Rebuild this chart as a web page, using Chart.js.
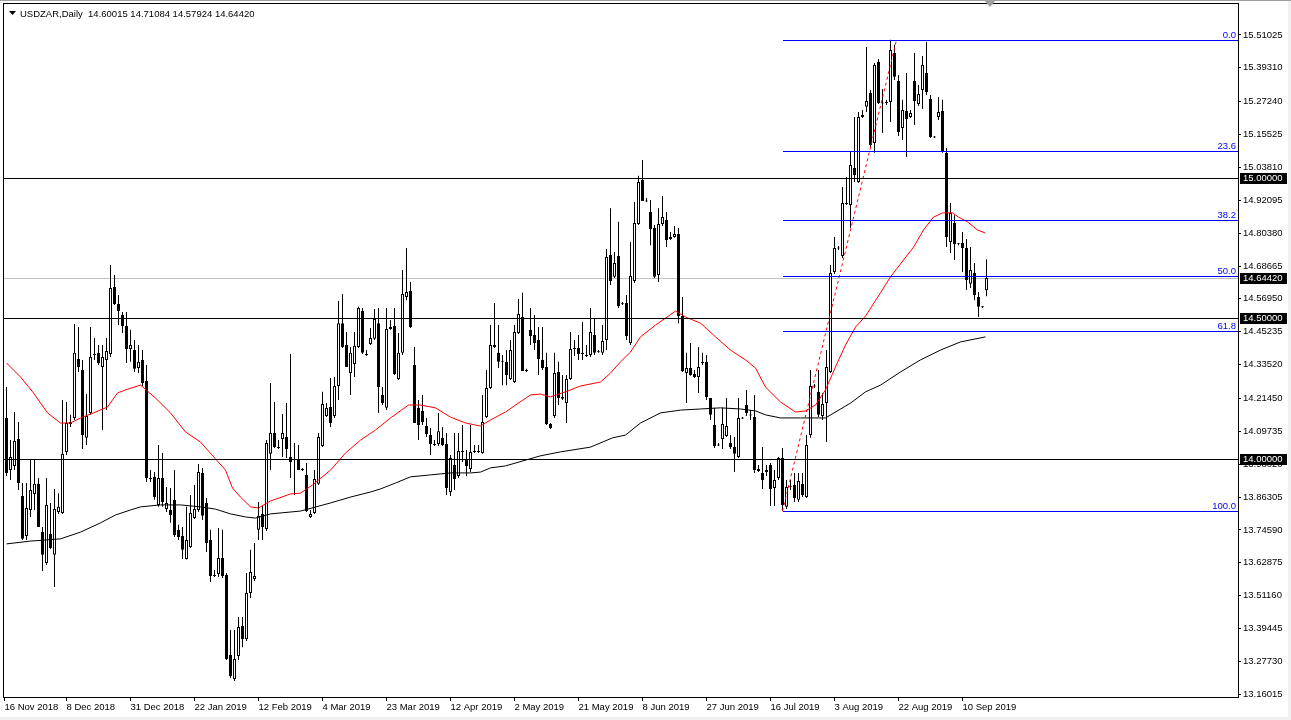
<!DOCTYPE html>
<html>
<head>
<meta charset="utf-8">
<script src="https://cdn.jsdelivr.net/npm/chart.js@4.4.0/dist/chart.umd.min.js"></script>
<style>
html,body{margin:0;padding:0;background:#fff;}
canvas{display:block;}
</style>
</head>
<body>
<canvas id="chart" width="1291" height="720"></canvas>
<script>
// USDZAR daily, values
const dateLabels = ["16 Nov 2018","8 Dec 2018","31 Dec 2018","22 Jan 2019","12 Feb 2019","4 Mar 2019","23 Mar 2019","12 Apr 2019","2 May 2019","21 May 2019","8 Jun 2019","27 Jun 2019","16 Jul 2019","3 Aug 2019","22 Aug 2019","10 Sep 2019"]
const dateTickIdx = [-0.5,15,31,47,63,79,95,111,127,143,159,175,191,207,223,239]
const priceTicks = [15.51025,15.39310,15.27240,15.15525,15.03810,14.92095,14.80380,14.68665,14.56950,14.45235,14.33520,14.21450,14.09735,13.98020,13.86305,13.74590,13.62875,13.51160,13.39445,13.27730,13.16015]

const open = [14.145,13.959,13.974,14.070,13.867,13.724,13.817,13.874,13.910,13.738,
13.628,13.731,13.657,13.810,13.806,14.024,14.123,14.145,14.355,14.316,
14.074,14.163,14.373,14.377,14.327,14.352,14.373,14.612,14.551,14.512,
14.473,14.391,14.387,14.323,14.352,14.277,13.931,13.935,13.835,13.931,
13.820,13.817,13.853,13.746,13.724,13.642,13.685,13.788,13.817,13.949,
13.842,13.710,13.585,13.589,13.646,13.585,13.300,13.214,13.296,13.403,
13.357,13.521,13.571,13.746,13.803,13.749,14.017,14.091,14.041,14.070,
14.077,14.006,13.995,13.995,13.959,13.942,13.792,13.806,13.910,14.045,
14.152,14.184,14.152,14.259,14.483,14.405,14.305,14.337,14.398,14.526,
14.373,14.409,14.427,14.483,14.227,14.181,14.462,14.473,14.284,14.377,
14.576,14.598,14.334,14.181,14.170,14.116,14.084,14.052,14.052,14.074,
14.052,13.881,13.977,13.938,14.024,13.995,13.963,14.024,14.024,14.020,
14.148,14.252,14.398,14.377,14.345,14.345,14.284,14.273,14.448,14.505,
14.312,14.459,14.441,14.423,14.352,14.327,14.123,14.152,14.309,14.220,
14.198,14.284,14.391,14.394,14.373,14.369,14.369,14.441,14.380,14.377,
14.423,14.726,14.648,14.722,14.551,14.555,14.412,14.633,14.836,14.993,
14.918,14.879,14.822,14.655,14.836,14.851,14.783,14.790,14.801,14.508,
14.305,14.323,14.302,14.291,14.345,14.345,14.216,14.120,14.049,14.070,
14.081,14.056,14.041,14.006,14.145,14.191,14.156,14.148,13.963,13.949,
13.952,13.977,13.895,13.931,14.002,13.828,13.902,13.906,13.853,13.910,
13.863,14.084,14.259,14.238,14.152,14.198,14.309,14.665,14.751,14.722,
14.911,14.904,15.036,14.986,15.218,15.254,15.303,15.125,15.414,15.268,
15.268,15.271,15.446,15.346,15.179,15.239,15.218,15.346,15.264,15.314,
15.375,15.282,15.147,15.218,15.239,15.090,14.772,14.840,14.765,14.769,
14.751,14.623,14.662,14.576,14.541,14.60015]

const high = [14.255,14.066,14.166,14.131,13.913,13.913,13.995,13.995,13.931,13.756,
13.931,13.842,13.892,13.877,14.209,14.202,14.156,14.480,14.469,14.352,
14.230,14.469,14.430,14.405,14.405,14.430,14.690,14.655,14.583,14.523,
14.523,14.459,14.423,14.405,14.387,14.334,13.959,13.952,14.049,14.020,
13.899,13.895,13.959,13.764,13.756,13.828,13.870,13.906,13.981,13.967,
13.860,13.746,13.603,13.753,13.746,13.592,13.389,13.389,13.435,13.435,
13.592,13.675,13.699,13.845,13.835,14.066,14.270,14.202,14.066,14.159,
14.198,14.373,14.056,14.049,13.967,13.984,13.817,13.959,14.091,14.238,
14.198,14.287,14.291,14.562,14.587,14.451,14.398,14.451,14.541,14.537,
14.387,14.466,14.533,14.537,14.255,14.537,14.494,14.537,14.448,14.672,
14.751,14.630,14.398,14.209,14.227,14.145,14.109,14.066,14.163,14.113,
14.091,14.013,14.091,14.091,14.120,14.031,14.120,14.049,14.049,14.227,
14.316,14.476,14.555,14.476,14.369,14.387,14.423,14.476,14.569,14.591,
14.320,14.537,14.512,14.469,14.469,14.377,14.127,14.377,14.345,14.298,
14.298,14.451,14.423,14.441,14.487,14.405,14.537,14.498,14.387,14.476,
14.747,14.893,14.737,14.844,14.558,14.583,14.772,14.915,15.008,15.065,
14.929,14.922,14.833,14.893,14.936,14.879,14.808,14.829,14.822,14.576,
14.377,14.412,14.316,14.398,14.377,14.369,14.216,14.181,14.056,14.181,
14.216,14.084,14.077,14.216,14.148,14.245,14.173,14.227,13.977,14.041,
13.977,13.984,13.959,14.006,14.038,13.924,13.924,13.949,13.949,13.949,
14.084,14.316,14.266,14.316,14.234,14.387,14.690,14.790,14.758,14.968,
15.004,15.093,15.218,15.236,15.243,15.467,15.314,15.410,15.425,15.318,
15.279,15.493,15.475,15.368,15.279,15.375,15.243,15.446,15.332,15.435,
15.485,15.296,15.150,15.289,15.279,15.107,14.911,14.868,14.769,14.808,
14.783,14.754,14.697,14.594,14.544,14.71084]

const low = [13.938,13.924,13.959,13.888,13.710,13.710,13.792,13.817,13.756,13.599,
13.621,13.678,13.542,13.803,13.803,14.013,14.113,14.138,14.309,14.034,
14.049,14.156,14.352,14.334,14.102,14.173,14.362,14.548,14.476,14.448,
14.341,14.345,14.309,14.305,14.259,13.917,13.917,13.853,13.828,13.828,
13.810,13.771,13.721,13.710,13.642,13.640,13.681,13.785,13.810,13.781,
13.667,13.560,13.578,13.578,13.574,13.282,13.218,13.207,13.282,13.328,
13.350,13.503,13.564,13.710,13.710,13.742,13.959,14.038,14.034,14.006,
14.002,13.931,13.870,13.959,13.956,13.810,13.788,13.803,13.906,14.041,
14.148,14.113,14.145,14.209,14.394,14.327,14.227,14.291,14.394,14.373,
14.366,14.405,14.423,14.163,14.191,14.173,14.459,14.298,14.280,14.369,
14.565,14.466,14.127,14.066,14.120,14.077,14.013,14.045,14.045,14.045,
13.870,13.867,13.888,13.931,13.988,13.938,13.952,14.020,14.020,14.017,
14.145,14.248,14.394,14.323,14.262,14.262,14.280,14.270,14.444,14.312,
14.309,14.405,14.387,14.298,14.316,14.120,14.106,14.145,14.191,14.209,
14.127,14.280,14.366,14.352,14.352,14.362,14.362,14.369,14.377,14.369,
14.387,14.619,14.644,14.537,14.548,14.423,14.405,14.626,14.833,14.918,
14.915,14.761,14.644,14.630,14.829,14.754,14.779,14.787,14.483,14.309,
14.198,14.295,14.287,14.234,14.334,14.209,14.138,14.038,14.045,14.034,
14.077,14.034,13.952,14.002,14.141,14.152,14.138,13.949,13.952,13.892,
13.938,13.831,13.831,13.924,13.813,13.820,13.888,13.845,13.845,13.863,
13.860,14.074,14.252,14.148,14.138,14.059,14.305,14.658,14.744,14.715,
14.904,14.822,14.986,14.983,15.214,15.236,15.111,15.090,15.264,15.161,
15.261,15.200,15.350,15.150,15.136,15.075,15.214,15.189,15.257,15.246,
15.296,15.143,15.143,15.207,15.090,14.754,14.733,14.708,14.761,14.665,
14.601,14.608,14.565,14.505,14.537,14.57924]

const close = [13.949,14.006,14.063,13.913,13.714,13.824,13.888,13.910,13.756,13.657,
13.835,13.681,13.820,13.828,14.017,14.127,14.131,14.377,14.327,14.084,
14.152,14.362,14.369,14.341,14.362,14.384,14.608,14.551,14.526,14.473,
14.391,14.405,14.320,14.345,14.270,13.931,13.927,13.863,13.931,13.845,
13.842,13.799,13.728,13.721,13.675,13.710,13.806,13.820,13.952,13.796,
13.699,13.582,13.582,13.646,13.582,13.286,13.225,13.286,13.400,13.357,
13.521,13.596,13.582,13.796,13.756,14.056,14.091,14.041,14.038,14.091,
14.034,13.988,13.999,13.959,13.963,13.813,13.803,13.927,14.077,14.195,
14.181,14.127,14.259,14.483,14.398,14.327,14.377,14.402,14.537,14.377,
14.369,14.430,14.498,14.255,14.198,14.462,14.469,14.302,14.377,14.587,
14.594,14.469,14.127,14.120,14.131,14.088,14.052,14.049,14.098,14.049,
13.895,14.002,13.927,14.027,14.027,13.974,14.024,14.027,14.027,14.131,
14.252,14.405,14.405,14.345,14.348,14.298,14.387,14.451,14.516,14.312,
14.313,14.437,14.412,14.355,14.323,14.123,14.109,14.305,14.216,14.213,
14.284,14.391,14.394,14.373,14.377,14.366,14.451,14.377,14.379,14.419,
14.719,14.633,14.697,14.544,14.550,14.437,14.651,14.840,14.986,14.918,
14.917,14.819,14.648,14.836,14.861,14.779,14.790,14.801,14.508,14.312,
14.323,14.298,14.291,14.327,14.341,14.220,14.156,14.045,14.047,14.123,
14.116,14.041,14.017,14.145,14.143,14.163,14.154,13.959,13.956,13.924,
13.959,13.892,13.924,14.002,13.835,13.899,13.900,13.860,13.920,13.870,
14.049,14.259,14.257,14.156,14.195,14.327,14.662,14.751,14.749,14.911,
14.908,15.047,15.011,15.218,15.225,15.275,15.118,15.403,15.268,15.266,
15.270,15.457,15.361,15.164,15.243,15.211,15.232,15.275,15.300,15.403,
15.307,15.147,15.145,15.236,15.093,14.790,14.876,14.765,14.764,14.751,
14.637,14.672,14.583,14.541,14.540,14.64420]

// moving averages as drawn on the chart (bar index, price)
const maRedIdx = [0,3.5,6.75,10.25,13.5,16,18.5,21.75,25.25,27.75,29.75,33.5,37.25,41,44.75,48.5,52.25,54.75,56.5,58.5,61,63,66,71,73.5,76.5,81,84.75,88.5,92.25,96,100.5,103.5,107.25,111,114.75,118.5,121,124.75,127.25,131,133.5,136,139.75,143.5,148.5,151,153.5,156,158.5,162.25,167.25,169.75,173.5,177.25,181,184.75,187.25,189.75,193.5,197.25,199.75,202.25,204.75,207.25,209.75,212.25,214.75,218.5,221,224.25,226.75,229.25,231.75,234,236.5,238,240.25,242.75,244.75]
const maRedVal = [14.341,14.291,14.234,14.163,14.127,14.127,14.145,14.163,14.184,14.234,14.245,14.262,14.216,14.163,14.095,14.059,13.999,13.959,13.895,13.863,13.828,13.824,13.849,13.874,13.877,13.906,13.959,14.020,14.066,14.102,14.145,14.191,14.191,14.181,14.148,14.127,14.116,14.138,14.166,14.191,14.227,14.230,14.220,14.238,14.259,14.273,14.305,14.345,14.380,14.434,14.476,14.526,14.505,14.483,14.434,14.387,14.352,14.323,14.255,14.202,14.166,14.170,14.191,14.245,14.327,14.405,14.469,14.508,14.591,14.648,14.708,14.754,14.815,14.861,14.876,14.876,14.861,14.844,14.815,14.804]
const maBlackIdx = [0,6,13.5,18.5,23.5,27.25,31,33.5,38.5,43.5,48.5,52.25,56,59.75,62.25,66,73.5,81,86,91,93.5,97.25,101,106,111,116,118.5,121,124.75,133.5,138.5,146,151.5,154.75,158.5,163.5,168.5,173.5,178.5,183.5,187.25,189.75,193.5,198.5,204.75,211,214.75,218.5,223.5,228.5,233.5,238.5,244.75]
const maBlackVal = [13.696,13.706,13.714,13.738,13.771,13.799,13.817,13.828,13.835,13.835,13.828,13.820,13.803,13.792,13.788,13.803,13.813,13.842,13.863,13.881,13.892,13.913,13.935,13.942,13.949,13.949,13.952,13.967,13.974,14.010,14.024,14.041,14.074,14.084,14.127,14.163,14.173,14.177,14.181,14.177,14.170,14.156,14.145,14.145,14.145,14.198,14.238,14.262,14.309,14.352,14.387,14.416,14.434]

const hLevels = [15.0, 14.5, 14.0]
const bidPrice = 14.6442
const boxPrices = [15.0, 14.6442, 14.5, 14.0]
const fibLow = 13.8125
const fibHigh = 15.4925
const fibStartIdx = 194
const fibEndIdx = 222.5
const fibRatios = [0.0, 23.6, 38.2, 50.0, 61.8, 100.0]
const headerText = "USDZAR,Daily  14.60015 14.71084 14.57924 14.64420"

const FONT = "9.5px 'Liberation Sans', Arial, sans-serif"

const wickData = open.map((o,i)=>({x:i, y:[low[i], high[i]]}))
const bodyData = open.map((o,i)=>({x:i, y:[o, close[i]]}))
const bodyColors = open.map((o,i)=> close[i] >= o ? '#ffffff' : '#000000')

const decor = {
  id:'decor',
  beforeDraw(chart){
    const c = chart.ctx
    c.save()
    c.fillStyle = '#ffffff'
    c.fillRect(0,0,chart.width,chart.height)
    c.restore()
  },
  beforeDatasetsDraw(chart){
    const c = chart.ctx, a = chart.chartArea, ys = chart.scales.y
    c.save()
    c.fillStyle = '#c0c0c0'
    c.fillRect(a.left, Math.round(ys.getPixelForValue(bidPrice)), a.right-a.left, 1)
    c.restore()
  },
  afterDatasetsDraw(chart){
    const c = chart.ctx, a = chart.chartArea, ys = chart.scales.y, xs = chart.scales.x
    c.save()
    c.fillStyle = '#000000'
    hLevels.forEach(v=>{
      c.fillRect(a.left, Math.round(ys.getPixelForValue(v)), a.right-a.left, 1)
    })
    const x0 = Math.round(xs.getPixelForValue(fibStartIdx))
    c.font = FONT
    c.textAlign = 'right'
    c.textBaseline = 'alphabetic'
    fibRatios.forEach(r=>{
      const v = fibHigh - (fibHigh-fibLow)*r/100
      const py = Math.round(ys.getPixelForValue(v))
      c.fillStyle = '#0000ff'
      c.fillRect(x0, py, a.right-x0, 1)
      c.fillText(r.toFixed(1), a.right-2, py-2)
    })
    c.restore()
  },
  afterDraw(chart){
    const c = chart.ctx, a = chart.chartArea, ys = chart.scales.y
    c.save()
    // plot frame
    c.strokeStyle = '#000000'
    c.lineWidth = 1
    c.strokeRect(a.left-0.5, a.top-0.5, a.right-a.left+1, a.bottom-a.top+1)
    // price boxes on the axis
    c.font = FONT
    c.textAlign = 'left'
    c.textBaseline = 'middle'
    boxPrices.forEach(v=>{
      const py = Math.round(ys.getPixelForValue(v))
      c.fillStyle = '#000000'
      c.fillRect(a.right+2, py-5, 47, 11)
      c.fillStyle = '#ffffff'
      c.fillText(v.toFixed(5), a.right+5, py+0.5)
    })
    // header
    c.fillStyle = '#000000'
    c.beginPath()
    c.moveTo(9,11); c.lineTo(16,11); c.lineTo(12.5,15); c.closePath(); c.fill()
    c.textBaseline = 'alphabetic'
    c.fillText(headerText, 20, 17)
    // chart shift marker
    c.fillStyle = '#a0a0a0'
    c.beginPath()
    c.moveTo(985,1); c.lineTo(995,1); c.lineTo(990,7); c.closePath(); c.fill()
    // window edges
    c.fillStyle = '#f0f0f0'
    c.fillRect(0, chart.height-3, chart.width, 3)
    c.fillRect(chart.width-3, 0, 3, chart.height)
    c.fillStyle = '#a0a0a0'
    c.fillRect(0,0,chart.width,1)
    c.restore()
  }
}

new Chart(document.getElementById('chart'),{
  type:'bar',
  data:{
    datasets:[
      {type:'line', label:'trend', data:[{x:fibStartIdx,y:fibLow},{x:fibEndIdx,y:fibHigh}], borderColor:'#ff0000', borderWidth:1, borderDash:[3,3], pointRadius:0, order:0},
      {type:'line', label:'MA red', data:maRedIdx.map((x,k)=>({x:x, y:maRedVal[k]})), borderColor:'#ff0000', borderWidth:1, pointRadius:0, tension:0, order:1},
      {type:'line', label:'MA black', data:maBlackIdx.map((x,k)=>({x:x, y:maBlackVal[k]})), borderColor:'#000000', borderWidth:1, pointRadius:0, tension:0, order:1},
      {type:'bar', label:'body', data:bodyData, backgroundColor:bodyColors, borderColor:'#000000', borderWidth:1, borderSkipped:false, barThickness:3, grouped:false, minBarLength:1, inflateAmount:0, order:2},
      {type:'bar', label:'wick', data:wickData, backgroundColor:'#000000', borderWidth:0, barThickness:1, grouped:false, inflateAmount:0, order:3}
    ]
  },
  options:{
    responsive:false,
    animation:false,
    devicePixelRatio:1,
    events:[],
    layout:{padding:{left:4, top:4, right:0, bottom:0}},
    plugins:{legend:{display:false}, tooltip:{enabled:false}},
    scales:{
      x:{
        type:'linear', min:-0.625, max:307.875, offset:false,
        afterBuildTicks: s=>{ s.ticks = dateTickIdx.map(v=>({value:v})) },
        afterFit: s=>{ s.height = 23; s.paddingLeft = 0; s.paddingRight = 0 },
        grid:{display:true, offset:false, drawOnChartArea:false, drawTicks:true, tickLength:4, tickColor:'#000000'},
        border:{display:false},
        ticks:{autoSkip:false, maxRotation:0, minRotation:0, align:'start', padding:1, color:'#000000',
          font:{family:"'Liberation Sans', Arial, sans-serif", size:9.5},
          callback:(v,i)=>dateLabels[i]}
      },
      y:{
        type:'linear', position:'right', min:13.1502, max:15.6207,
        afterBuildTicks: s=>{ s.ticks = priceTicks.map(v=>({value:v})) },
        afterFit: s=>{ s.width = 53; s.paddingTop = 0; s.paddingBottom = 0 },
        grid:{display:true, drawOnChartArea:false, drawTicks:true, tickLength:3, tickColor:'#000000'},
        border:{display:false},
        ticks:{autoSkip:false, padding:2, color:'#000000',
          font:{family:"'Liberation Sans', Arial, sans-serif", size:9.5},
          callback:v=>v.toFixed(5)}
      }
    }
  },
  plugins:[decor]
})
</script>
</body>
</html>
